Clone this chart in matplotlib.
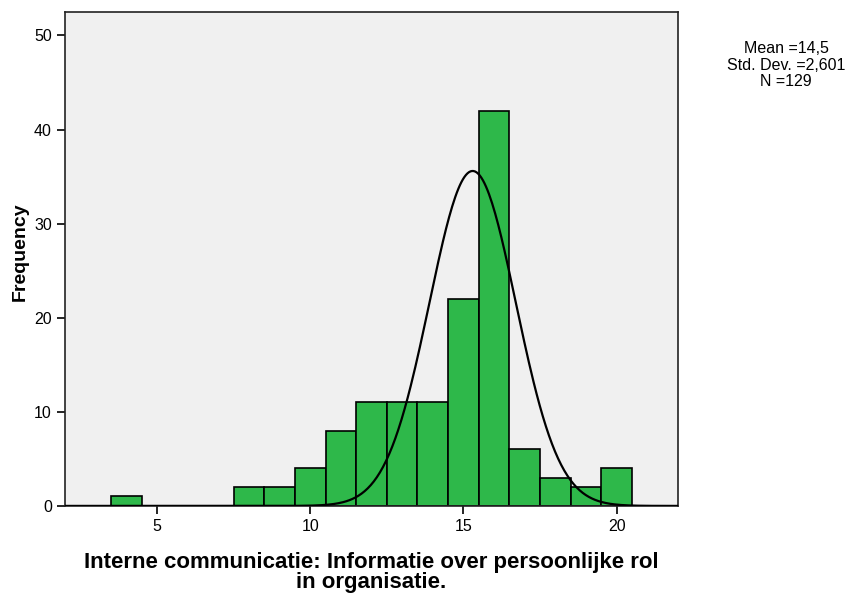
import numpy as np
import matplotlib.pyplot as plt

plt.rcParams['font.family'] = ['Liberation Sans', 'DejaVu Sans']

# histogram bins (bin centres) and counts
scores = [4, 8, 9, 10, 11, 12, 13, 14, 15, 16, 17, 18, 19, 20]
counts = [1, 2, 2, 4, 8, 11, 11, 11, 22, 42, 6, 3, 2, 4]

# fitted normal curve as drawn
curve_mean = 15.3
curve_sd = 1.41
curve_peak = 35.6

stats_lines = ['Mean =14,5', 'Std. Dev. =2,601', 'N =129']

xlabel = 'Interne communicatie: Informatie over persoonlijke rol\nin organisatie.'
ylabel = 'Frequency'

fig = plt.figure(figsize=(8.48, 5.98), dpi=100)
ax = fig.add_axes([0.0767, 0.154, 0.7228, 0.826])
ax.set_facecolor('#f0f0f0')

ax.bar(scores, counts, width=1.0, color='#2eb84a', edgecolor='black',
       linewidth=1.2, zorder=2)

xs = np.linspace(2, 22, 400)
ys = curve_peak * np.exp(-0.5 * ((xs - curve_mean) / curve_sd) ** 2)
ax.plot(xs, ys, color='black', linewidth=1.6, zorder=3)

ax.set_xlim(2, 22)
ax.set_ylim(0, 52.5)
ax.set_xticks([5, 10, 15, 20])
ax.set_yticks(np.arange(0, 51, 10))
ax.tick_params(direction='out', length=6, width=1.2, labelsize=11.5,
               top=False, right=False)
for s in ax.spines.values():
    s.set_linewidth(1.2)
    s.set_color('#222222')

ax.set_ylabel(ylabel, fontsize=14, fontweight='bold')
ax.yaxis.set_label_coords(-0.06, 0.515)
ax.set_xlabel(xlabel, fontsize=16, fontweight='bold', labelpad=13,
              linespacing=0.93)

fig.text(0.927, 0.891, '\n'.join(stats_lines), ha='center', va='center',
         fontsize=11.5, linespacing=1.1)

fig.savefig('out.png', dpi=100)
